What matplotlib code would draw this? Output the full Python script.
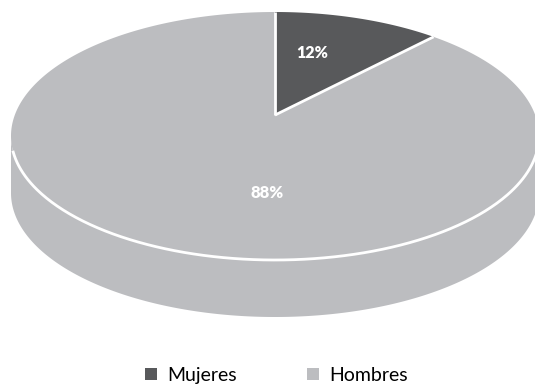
import matplotlib
matplotlib.use('Agg')
import matplotlib.pyplot as plt
from matplotlib.patches import Patch, Polygon
import numpy as np

labels = ['Mujeres', 'Hombres']
values = [12, 88]
colors = ['#58595b', '#bcbdc0']

# geometry of the tilted pie, in pixels
cx, cy = 275, 136
rx, ry = 264, 124
depth = 57
tilt = 0.169  # perspective, moves the apex above the ellipse centre
apex = (cx, cy - ry * tilt)


def project(theta):
    # theta clockwise from 12 o'clock on the flat pie
    x = np.sin(theta)
    y = np.cos(theta)
    d = 1 + tilt * y
    return cx + rx * x * np.sqrt(1 - tilt ** 2) / d, cy - ry * (y + tilt) / d


def wedge(start, end):
    t = np.linspace(start, end, 300)
    xs, ys = project(t)
    return np.column_stack([np.r_[apex[0], xs], np.r_[apex[1], ys]])


plt.rcParams['font.family'] = ['Lato', 'DejaVu Sans']

fig = plt.figure(figsize=(5.35, 3.84), dpi=100)
ax = fig.add_axes([0, 0, 1, 1])
ax.set_xlim(0, 535)
ax.set_ylim(384, 0)
ax.axis('off')

# side wall
front = np.linspace(np.pi / 2, 3 * np.pi / 2, 300)
fx = cx + rx * np.sin(front)
fy = cy - ry * np.cos(front)
side = np.column_stack([np.r_[fx, fx[::-1]], np.r_[fy, fy[::-1] + depth]])
ax.add_patch(Polygon(side, closed=True, fc=colors[1], ec='none', zorder=1))

# top of the pie
angles = np.cumsum([0] + values) / sum(values) * 2 * np.pi
for i in range(len(values)):
    ax.add_patch(Polygon(wedge(angles[i], angles[i + 1]), closed=True, fc=colors[i],
                         ec='none', zorder=2))

# white cuts between the slices
for a in angles[:2]:
    ex, ey = project(a)
    ax.plot([apex[0], ex], [apex[1], ey], color='white', lw=2, solid_capstyle='butt', zorder=3)

# white front rim, starts just below the widest points
rim = np.linspace(np.pi / 2 + 0.13, 3 * np.pi / 2 - 0.13, 300)
ax.plot(cx + rx * np.sin(rim), cy - ry * np.cos(rim), color='white', lw=2, zorder=3)

ax.text(312.5, 53.5, '12%', color='white', fontsize=11.5, fontweight='heavy', ha='center', va='center')
ax.text(267.5, 193.5, '88%', color='white', fontsize=12, fontweight='heavy', ha='center', va='center')

handles = [Patch(fc=c, ec='none') for c in colors]
ax.legend(handles, labels, ncol=2, frameon=False, fontsize=14, loc='center',
          bbox_to_anchor=(276.5 / 535, 1 - 375.5 / 384), handlelength=0.62, handleheight=0.62,
          handletextpad=0.51, columnspacing=3.6, borderpad=0)

fig.savefig('out.png', dpi=100)
